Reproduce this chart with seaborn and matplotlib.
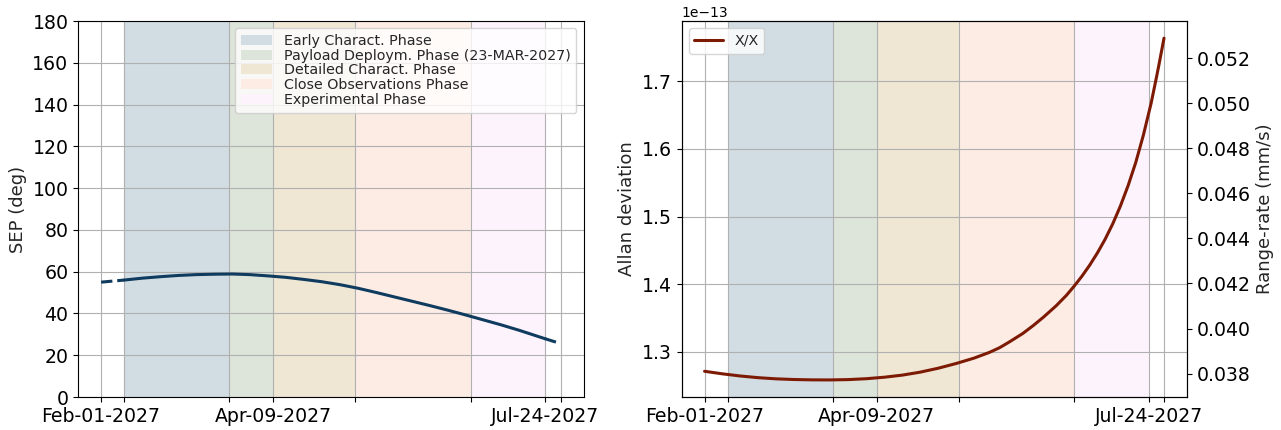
import pandas as pd
import numpy as np
import matplotlib
matplotlib.use("Agg")
import matplotlib.pyplot as plt
import matplotlib.dates as mdates
import seaborn as sns

# --- data ---

# Sun-Earth-Probe angle (deg)
sep_dates = ["2027-02-01", "2027-02-10", "2027-02-17", "2027-02-24", "2027-03-03",
             "2027-03-10", "2027-03-17", "2027-03-24", "2027-03-31", "2027-04-07",
             "2027-04-14", "2027-04-21", "2027-04-28", "2027-05-05", "2027-05-12",
             "2027-05-19", "2027-05-26", "2027-06-02", "2027-06-09", "2027-06-16",
             "2027-06-23", "2027-06-30", "2027-07-07", "2027-07-14", "2027-07-21",
             "2027-07-24", "2027-07-30"]
sep_values = [55.0, 56.0, 56.9, 57.6, 58.2, 58.6, 58.8, 58.9, 58.6, 58.0,
              57.3, 56.3, 55.2, 53.8, 52.1, 50.1, 48.0, 45.9, 43.8, 41.6,
              39.3, 36.9, 34.5, 31.9, 29.1, 27.9, 25.6]

# Allan deviation (units of 1e-13)
adev_dates = ["2027-02-01", "2027-02-08", "2027-02-15", "2027-02-22", "2027-03-01",
              "2027-03-08", "2027-03-15", "2027-03-22", "2027-03-29", "2027-04-05",
              "2027-04-12", "2027-04-19", "2027-04-26", "2027-05-03", "2027-05-10",
              "2027-05-17", "2027-05-23", "2027-05-27", "2027-05-31", "2027-06-05",
              "2027-06-09", "2027-06-13", "2027-06-18", "2027-06-22", "2027-06-25",
              "2027-06-28", "2027-07-01", "2027-07-04", "2027-07-07", "2027-07-10",
              "2027-07-13", "2027-07-16", "2027-07-19", "2027-07-22", "2027-07-25",
              "2027-07-27", "2027-07-28", "2027-07-29", "2027-07-30"]
adev_e13 = [1.2710, 1.2672, 1.2640, 1.2615, 1.2598, 1.2588, 1.2583, 1.2582, 1.2587, 1.2600,
            1.2622, 1.2653, 1.2697, 1.2755, 1.2825, 1.2905, 1.2990, 1.3060, 1.3150, 1.3270,
            1.3385, 1.3510, 1.3680, 1.3835, 1.3970, 1.4116, 1.4278, 1.4458, 1.4660, 1.4890,
            1.5154, 1.5456, 1.5801, 1.6210, 1.6680, 1.7050, 1.7240, 1.7440, 1.7640]

phase_names = ["Early Charact. Phase", "Payload Deploym. Phase (23-MAR-2027)",
               "Detailed Charact. Phase", "Close Observations Phase", "Experimental Phase"]
phase_starts = ["2027-02-10", "2027-03-23", "2027-04-09", "2027-05-11", "2027-06-25"]
phase_ends = ["2027-03-23", "2027-04-09", "2027-05-11", "2027-06-25", "2027-07-24"]
phase_colors = ["#d1dde3", "#dde4d9", "#efe6d4", "#fdece4", "#fdf3fd"]

# labelled ticks and the unlabelled phase-boundary ticks
major_dates = ["2027-02-01", "2027-04-09", "2027-07-24"]
major_labels = ["Feb-01-2027", "Apr-09-2027", "Jul-24-2027"]
minor_dates = ["2027-02-10", "2027-03-23", "2027-05-11", "2027-06-25", "2027-07-30"]

C_MM_S = 299792458e3  # speed of light in mm/s

sep_df = pd.DataFrame({"date": pd.to_datetime(sep_dates), "sep": sep_values})
adev_df = pd.DataFrame({"date": pd.to_datetime(adev_dates),
                        "adev": np.array(adev_e13) * 1e-13})

# --- style ---
sns.set_style("ticks", {"axes.grid": True, "grid.color": "#b0b0b0",
                        "axes.edgecolor": "black", "xtick.color": "black",
                        "ytick.color": "black"})
plt.rcParams["font.family"] = ["DejaVu Sans"]
plt.rcParams["xtick.labelsize"] = 13.6
plt.rcParams["ytick.labelsize"] = 13.6
plt.rcParams["axes.labelsize"] = 13

fig, (ax1, ax3) = plt.subplots(1, 2, figsize=(12.81, 4.30), dpi=100)
fig.subplots_adjust(left=0.061, right=0.9266, bottom=0.0767, top=0.951, wspace=0.194)

major_nums = mdates.date2num(pd.to_datetime(major_dates))
minor_nums = mdates.date2num(pd.to_datetime(minor_dates))


def draw_phases(ax):
    for name, s, e, col in zip(phase_names, phase_starts, phase_ends, phase_colors):
        ax.axvspan(pd.Timestamp(s), pd.Timestamp(e), color=col, lw=0,
                   zorder=0.2, label=name)


def date_ticks(ax):
    ax.set_xticks(major_nums)
    ax.set_xticklabels(major_labels)
    ax.set_xticks(minor_nums, minor=True)
    ax.tick_params(axis="x", which="minor", length=3.5, width=0.8)
    ax.grid(True, axis="x", which="both", color="#b0b0b0", lw=0.8)
    ax.set_xlabel("")


# --- left: SEP ---
draw_phases(ax1)
t0, t1 = pd.Timestamp(phase_starts[0]), pd.Timestamp(phase_ends[-1])
sns.lineplot(data=sep_df[sep_df["date"] <= t0], x="date", y="sep", ax=ax1,
             color="#0f3b5f", linestyle="--", lw=2.2)
sns.lineplot(data=sep_df[(sep_df["date"] >= t0) & (sep_df["date"] <= t1)],
             x="date", y="sep", ax=ax1, color="#0f3b5f", lw=2.2)
sns.lineplot(data=sep_df[sep_df["date"] >= t1], x="date", y="sep", ax=ax1,
             color="#0f3b5f", linestyle="--", lw=2.2)
ax1.set_ylim(0, 180)
ax1.set_yticks(range(0, 181, 20))
date_ticks(ax1)
ax1.set_ylabel("SEP (deg)")
ax1.legend(loc="upper right", fontsize=10.3, labelspacing=0.05, handlelength=2.2)

# --- right: Allan deviation / range-rate ---
draw_phases(ax3)
sns.lineplot(data=adev_df, x="date", y="adev", ax=ax3, color="#7d1a04", lw=2.2,
             label="X/X")
date_ticks(ax3)
ax3.set_ylabel("Allan deviation")
ax3.yaxis.get_offset_text().set_fontsize(10)
ax3.legend(handles=ax3.get_lines(), loc="upper left", fontsize=10.3)

ax4 = ax3.twinx()
ax4.grid(False)
lo, hi = ax3.get_ylim()
ax4.set_ylim(lo * C_MM_S, hi * C_MM_S)
ax4.set_ylabel("Range-rate (mm/s)")

fig.savefig("out.png", dpi=100)
